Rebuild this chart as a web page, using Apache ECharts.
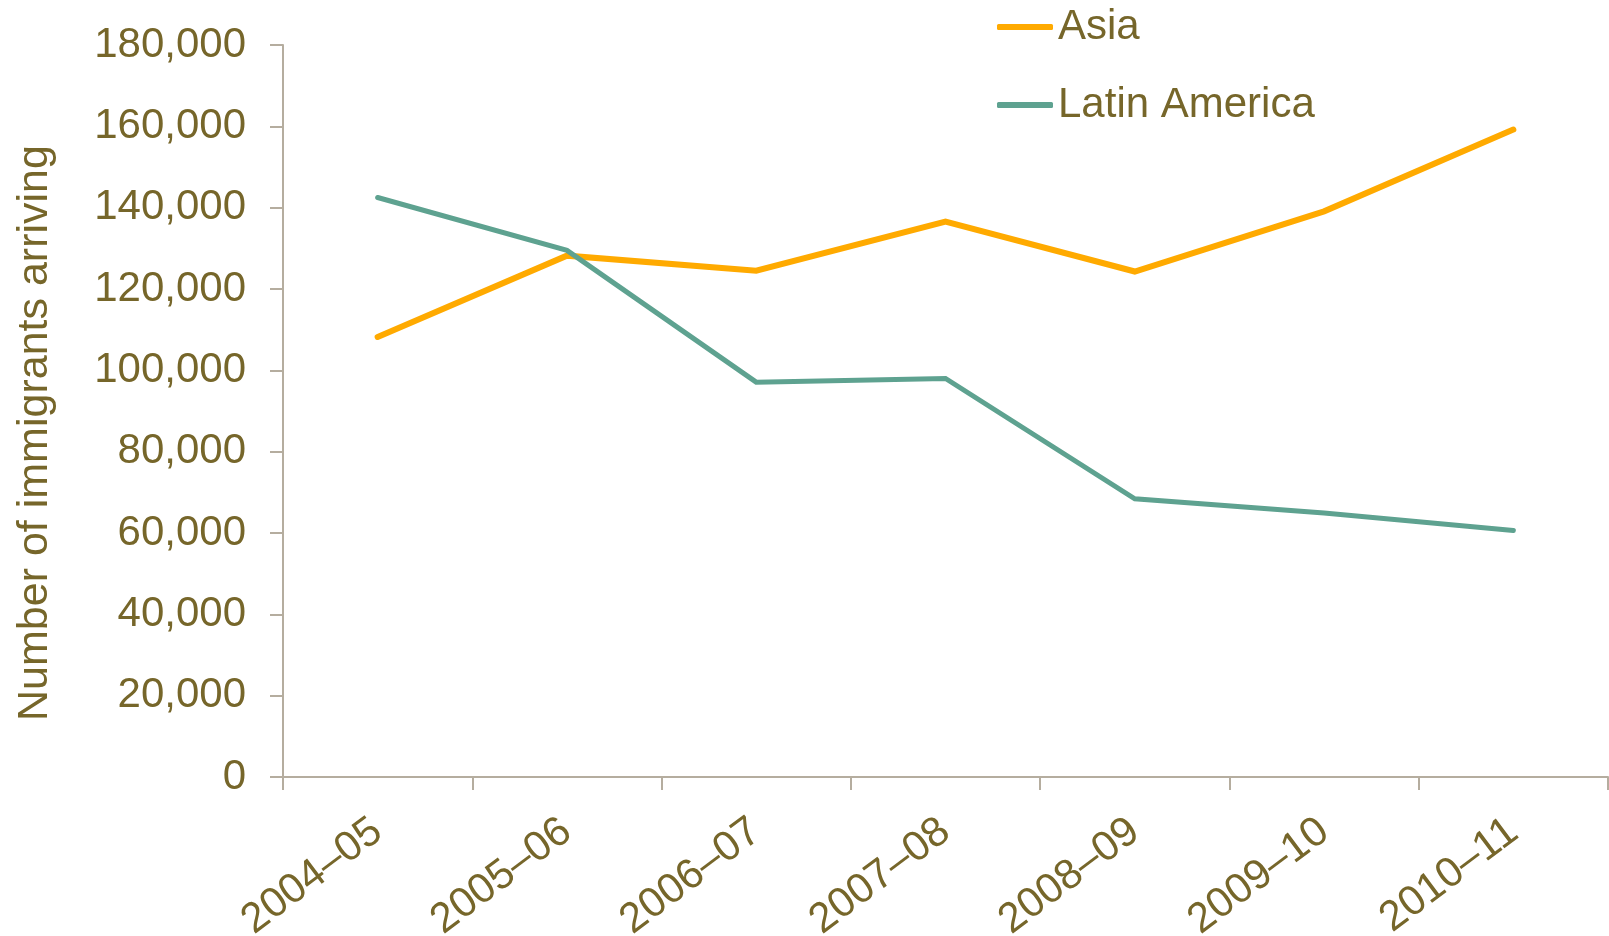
<!DOCTYPE html>
<html>
<head>
<meta charset="utf-8">
<script src="https://cdn.jsdelivr.net/npm/echarts@6/dist/echarts.min.js"></script>
<style>
    html, body { margin: 0; padding: 0; background: #fff; }
    #immline { width: 1609px; height: 936px; }
</style>
</head>
<body>
<div id="immline"></div>
<script>
    // 年份
    var years = ['2004–05', '2005–06', '2006–07', '2007–08', '2008–09', '2009–10', '2010–11'];
    // 数据
    var asia = [108200, 128200, 124500, 136600, 124300, 139100, 159200];
    var latinAmerica = [142500, 129500, 97100, 98000, 68400, 64900, 60600];

    var textColor = '#76662a';
    var axisColor = '#b5ad9f';
    var fontName = '"Liberation Sans", Arial, sans-serif';

    var chart = echarts.init(document.getElementById('immline'));
    var option = {
        animation: false,
        grid: {
            left: 283,
            right: 1,
            top: 45,
            bottom: 159,
            containLabel: false,
            outerBoundsMode: 'none'
        },
        legend: {
            orient: 'vertical',
            left: 992,
            top: -4,
            icon: 'roundRect',
            itemWidth: 56,
            itemHeight: 6,
            itemGap: 26,
            textStyle: {
                color: textColor,
                fontSize: 42,
                fontFamily: fontName,
                lineHeight: 42,
                padding: [10, 0, 0, 0]
            },
            data: ['Asia', 'Latin America']
        },
        xAxis: {
            type: 'category',
            boundaryGap: true,
            data: years,
            axisLine: { lineStyle: { color: axisColor, width: 2 } },
            axisTick: { show: true, length: 13, lineStyle: { color: axisColor, width: 2 } },
            axisLabel: {
                rotate: 37,
                margin: 50,
                color: textColor,
                fontSize: 42,
                fontFamily: fontName
            }
        },
        yAxis: {
            type: 'value',
            min: 0,
            max: 180000,
            interval: 20000,
            name: 'Number of immigrants arriving',
            nameLocation: 'middle',
            nameGap: 226,
            nameTextStyle: {
                color: textColor,
                fontSize: 43,
                fontFamily: fontName,
                padding: [0, 44, 0, 0]
            },
            splitLine: { show: false },
            axisLine: { show: true, lineStyle: { color: axisColor, width: 2 } },
            axisTick: { show: true, length: 13, lineStyle: { color: axisColor, width: 2 } },
            axisLabel: {
                margin: 37,
                color: textColor,
                fontSize: 42,
                fontFamily: fontName,
                formatter: function (v) { return v.toLocaleString('en-US'); }
            }
        },
        series: [
            {
                name: 'Asia',
                type: 'line',
                symbol: 'none',
                color: '#ffaa00',
                lineStyle: { color: '#ffaa00', width: 6, cap: 'round', join: 'miter' },
                data: asia
            },
            {
                name: 'Latin America',
                type: 'line',
                symbol: 'none',
                color: '#5ea290',
                lineStyle: { color: '#5ea290', width: 5, cap: 'round', join: 'miter' },
                data: latinAmerica
            }
        ]
    };
    chart.setOption(option);
</script>
</body>
</html>
